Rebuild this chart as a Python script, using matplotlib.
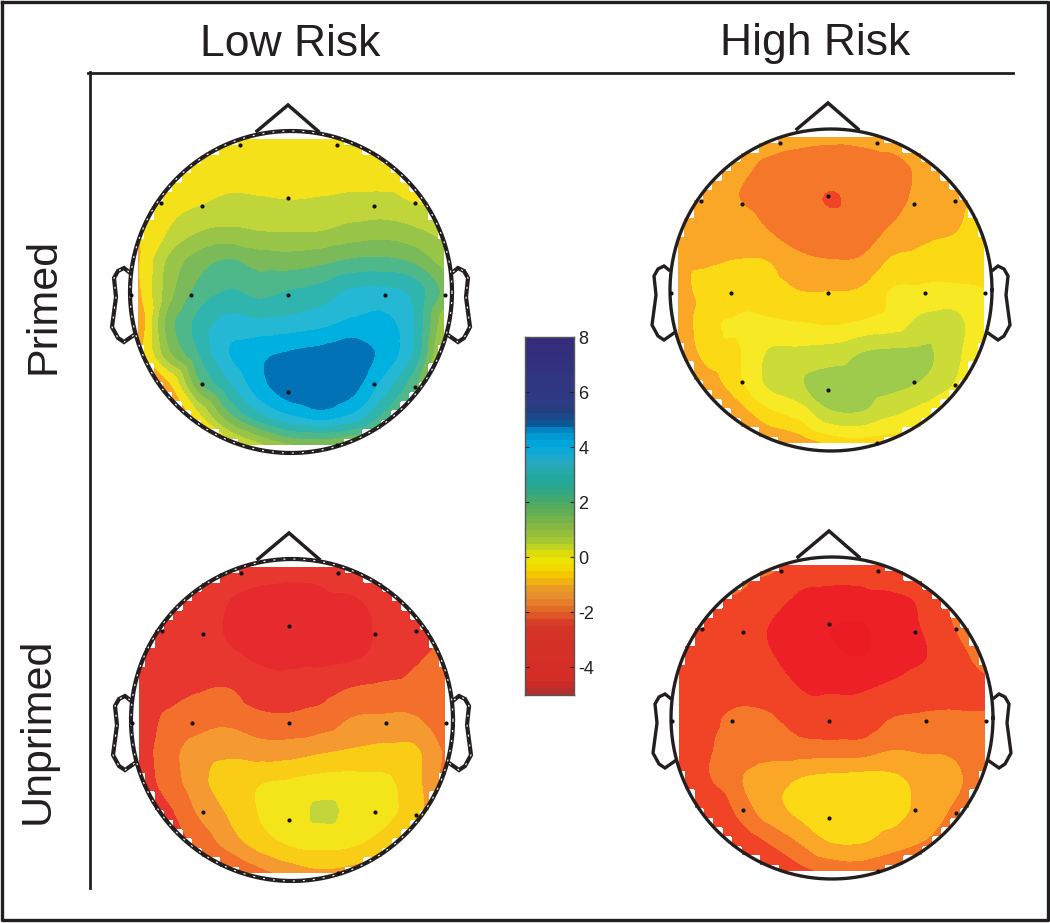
import numpy as np
import matplotlib
matplotlib.use("Agg")
import matplotlib.pyplot as plt
import matplotlib.tri as mtri
from matplotlib.colors import LinearSegmentedColormap

plt.rcParams['font.family'] = ['Liberation Sans', 'DejaVu Sans']

W, H = 1050, 923

# scalp values on an 11x11 grid, top row first
low_primed = [
    [-0.2, -0.1, 0.0, 0.0, 0.0, 0.0, 0.1, 0.4, 0.5, 0.4, 0.4],
    [-0.1, 0.0, 0.0, 0.0, 0.0, 0.0, 0.0, 0.0, 0.0, 0.1, 0.2],
    [-0.2, 0.0, 0.2, 0.4, 0.35, 0.3, 0.35, 0.45, 0.45, 0.25, 0.2],
    [-0.4, 0.3, 0.85, 1.0, 0.88, 0.85, 0.88, 1.1, 1.2, 1.0, 0.7],
    [-0.5, 1.0, 1.8, 2.15, 1.85, 1.8, 1.95, 2.2, 2.25, 2.0, 1.2],
    [-0.6, 1.2, 2.3, 2.75, 2.5, 2.75, 2.95, 3.4, 3.45, 3.1, 1.9],
    [-1.0, 1.7, 2.9, 3.5, 3.4, 3.5, 3.7, 4.0, 4.05, 3.3, 1.0],
    [-0.8, 1.3, 2.7, 3.9, 4.35, 4.55, 4.7, 4.9, 4.3, 3.2, 0.5],
    [-1.2, -0.5, 1.9, 3.2, 4.3, 4.9, 5.0, 4.75, 3.7, 2.3, 0.3],
    [-1.5, -1.5, 0.2, 2.0, 3.2, 3.9, 4.25, 3.8, 2.6, 1.3, 0.3],
    [-1.5, -1.5, -0.8, -0.2, 0.7, 1.4, 1.5, 1.2, 0.8, 0.6, 0.3],
]
high_primed = [
    [-1.2, -1.2, -1.2, -1.3, -1.45, -1.5, -1.45, -1.3, -1.2, -1.1, -1.0],
    [-1.1, -1.1, -1.45, -1.75, -1.85, -1.9, -1.9, -1.85, -1.45, -1.2, -1.0],
    [-1.1, -1.2, -1.6, -1.9, -2.0, -2.25, -2.0, -1.85, -1.4, -1.15, -0.95],
    [-1.0, -1.1, -1.25, -1.65, -1.9, -1.95, -1.85, -1.55, -1.2, -1.05, -0.75],
    [-1.05, -1.05, -1.0, -1.05, -1.5, -1.6, -1.55, -0.95, -0.8, -0.7, -0.6],
    [-1.15, -0.85, -0.7, -0.75, -1.02, -1.03, -0.95, -0.38, -0.3, -0.3, -0.4],
    [-1.5, -0.55, -0.35, -0.35, -0.45, -0.55, -0.4, -0.15, 0.45, 0.55, -0.4],
    [-1.7, -0.7, -0.45, 0.33, 0.4, 0.5, 0.85, 0.95, 0.95, 0.55, -0.6],
    [-1.9, -1.3, -0.55, 0.45, 0.85, 1.1, 1.1, 1.05, 0.85, 0.3, -0.9],
    [-2.0, -2.0, -1.3, -0.55, -0.1, 0.8, 0.85, 0.4, 0.0, -0.5, -1.0],
    [-2.0, -2.0, -1.9, -1.6, -1.4, -0.9, -0.7, -0.8, -1.0, -1.0, -1.0],
]
low_unprimed = [
    [-2.6, -2.7, -2.8, -2.9, -2.85, -2.9, -2.8, -2.2, -2.0, -1.9, -1.8],
    [-2.5, -2.6, -2.9, -3.1, -3.25, -3.3, -3.25, -3.15, -2.7, -2.1, -1.7],
    [-2.5, -2.6, -2.8, -3.2, -3.4, -3.5, -3.4, -3.3, -2.95, -2.5, -2.0],
    [-2.5, -2.55, -2.7, -2.95, -3.2, -3.3, -3.3, -3.15, -2.85, -2.3, -2.0],
    [-2.6, -2.5, -2.25, -2.2, -2.7, -2.65, -2.45, -2.15, -2.0, -1.9, -1.85],
    [-2.6, -2.05, -1.85, -1.75, -2.0, -2.05, -1.95, -1.55, -1.5, -1.55, -1.9],
    [-2.6, -1.8, -1.35, -1.2, -1.35, -1.3, -1.1, -0.95, -0.85, -0.9, -1.7],
    [-2.6, -1.9, -1.2, -0.6, -0.45, -0.35, -0.2, -0.2, -0.3, -0.8, -1.8],
    [-2.7, -2.3, -1.5, -0.9, -0.35, 0.0, 0.42, 0.1, -0.2, -0.75, -1.8],
    [-2.7, -2.6, -2.0, -1.3, -0.7, -0.3, -0.2, -0.3, -0.7, -1.3, -1.8],
    [-2.7, -2.7, -2.6, -2.4, -1.8, -1.4, -1.15, -1.3, -1.6, -1.8, -1.9],
]
high_unprimed = [
    [-2.1, -2.0, -1.9, -2.0, -2.6, -2.7, -2.7, -2.2, -2.0, -1.6, -1.5],
    [-2.4, -2.2, -2.25, -2.7, -3.2, -3.3, -3.3, -3.2, -2.9, -1.9, -1.4],
    [-2.5, -2.5, -2.6, -3.15, -3.4, -3.9, -3.95, -3.4, -3.05, -2.2, -1.4],
    [-2.5, -2.5, -2.6, -3.05, -3.4, -3.75, -3.9, -3.5, -3.15, -2.6, -1.8],
    [-2.5, -2.45, -2.4, -2.5, -3.15, -3.2, -3.2, -2.95, -2.65, -2.5, -2.4],
    [-2.5, -2.3, -2.1, -2.15, -2.6, -2.75, -2.65, -2.2, -2.1, -2.1, -2.15],
    [-2.7, -2.25, -1.95, -1.85, -1.95, -1.95, -1.95, -1.65, -1.7, -1.75, -2.1],
    [-3.0, -2.25, -1.65, -1.3, -0.98, -0.85, -0.8, -0.9, -1.2, -1.45, -2.1],
    [-3.0, -2.9, -2.0, -1.25, -0.85, -0.65, -0.65, -0.75, -1.25, -1.7, -2.3],
    [-3.0, -3.0, -2.6, -2.1, -1.5, -0.95, -0.95, -1.3, -1.6, -2.0, -2.4],
    [-3.0, -3.0, -3.0, -2.8, -2.4, -2.1, -2.0, -2.2, -2.4, -2.5, -2.6],
]

# contour bands shared by the four maps
band_edges = [-6, -3.9, -3.1, -2.2, -1.6, -1.0, -0.4, 0.3, 0.9, 1.5, 2.1, 2.7, 3.3, 3.9, 4.5, 8]
band_colors = ['#ec1c24', '#ee2027', '#f14427', '#f5782a', '#faa626', '#fbd915', '#f8e925', '#cbdc38',
               '#9fcb4d', '#7aba58', '#4fb88a', '#30b5ae', '#25b8d5', '#00b0e2', '#0072b5']
# the bottom left map came out a little duller
band_colors_dull = ['#e52b2e', '#e52b2e', '#e7372f', '#f26f2c', '#f49a30', '#f9cd16', '#f4e41a', '#c2d63b',
                    '#9fcb4d', '#7aba58', '#4fb88a', '#30b5ae', '#25b8d5', '#00b0e2', '#0072b5']
band_colors_low = ['#ec1c24', '#ee2027', '#f14427', '#f5782a', '#f9a826', '#f9a826', '#f5e11a', '#c0d53a',
                   '#98c547', '#7aba58', '#4fb88a', '#30b5ae', '#25b8d5', '#00b0e0', '#0072b5']

# colorbar anchors
cbar_values = [-5, -4.7, -4.5, -2.5, -2.2, -1.9, -1.5, -1.2, -0.9, -0.6, -0.2, 0, 0.3, 0.6, 1, 1.5, 2, 2.5, 3,
               3.3, 3.6, 4, 4.3, 4.6, 4.75, 4.9, 5.3, 5.75, 8]
cbar_colors = ['#a83030', '#c42c28', '#d52b27', '#d53527', '#dd5026', '#e26a28', '#e68a2c', '#e6952c',
               '#eeb010', '#f5c800', '#f0e600', '#e5e000', '#c5d51f', '#a5c832', '#8dbb3e', '#6bb04e',
               '#4aa967', '#2ba78f', '#1fa99f', '#2aa9b5', '#20a8cc', '#00aade', '#00a0d8', '#0088c6',
               '#0073b5', '#0f5595', '#21407f', '#2f3a84', '#352a7a']
cbar_ticks = [-4, -2, 0, 2, 4, 6, 8]

col_titles = ['Low Risk', 'High Risk']
row_titles = ['Primed', 'Unprimed']

# electrode positions relative to the electrode centre
elec_dx = [-48, 49, -127, -86, 0, 86, 127, -97, 0, 97, 157, -157, -86, 0, 86, 127, 49]
elec_dy = [-150, -150, -92, -89, -97, -89, -92, 0, 0, 0, 0, 0, 89, 97, 89, 92, 150]

fig = plt.figure(figsize=(W / 100, H / 100), dpi=100)
ax = fig.add_axes([0, 0, 1, 1])
ax.set_xlim(0, W)
ax.set_ylim(H, 0)
ax.axis('off')

grid = np.linspace(-1, 1, 11)
fine = np.linspace(-1, 1, 401)
gx, gy = np.meshgrid(grid, grid)
fx, fy = np.meshgrid(fine, fine)
tri = mtri.Triangulation(gx.ravel(), gy.ravel())
# blocky scalp mask like the original plot
STEP = 0.062
blocky = np.hypot(np.round(fx / STEP) * STEP, np.round(fy / STEP) * STEP) > 1.04

MAP_HALF = 153
CIRCLE_R = 161


def draw_head(values, cx, cy, colors, dashed):
    z = np.array(values).ravel()
    smooth = mtri.CubicTriInterpolator(tri, z, kind='geom')(fx, fy)
    smooth = np.ma.array(smooth, mask=blocky)
    ax.contourf(cx + fx * MAP_HALF, cy + fy * MAP_HALF, smooth, levels=band_edges, colors=colors, zorder=1)

    t = np.linspace(0, 2 * np.pi, 300)
    nose_x = np.array([-34, -3, 27]) + cx
    nose_y = np.array([-161, -187, -161]) + cy
    ear_x = np.array([162, 167, 173, 177, 175, 179, 173, 167, 157])
    ear_y = np.array([-20, -24, -21, -14, 5, 35, 46, 50, 43]) + cy
    ax.plot(nose_x, nose_y, color='#231f20', lw=2.5, zorder=3, solid_joinstyle='miter')
    outlines = [(cx + CIRCLE_R * np.cos(t), cy + CIRCLE_R * np.sin(t)), (cx - ear_x, ear_y), (cx + ear_x, ear_y)]
    for lx, ly in outlines:
        ax.plot(lx, ly, color='#231f20', lw=3.0 if dashed else 2.4, zorder=3, solid_joinstyle='miter')
        if dashed:
            ax.plot(lx, ly, color='white', lw=0.8, ls=(0, (1.8, 7.2)), zorder=4)

    ax.scatter(cx - 3 + np.array(elec_dx), cy + 3 + np.array(elec_dy), s=9, color='#111111', zorder=5, linewidths=0)


draw_head(low_primed, 291, 292, band_colors_low, True)
draw_head(high_primed, 831, 290, band_colors, False)
draw_head(low_unprimed, 292, 720, band_colors_dull, True)
draw_head(high_unprimed, 832, 718, band_colors, False)

# outer frame and the L shaped header rule
ax.plot([2, 1048, 1048, 2, 2], [2, 2, 920, 920, 2], color='#231f20', lw=2.4, zorder=2)
ax.plot([88, 1013], [72.5, 72.5], color='#231f20', lw=2.0)
ax.plot([90, 90], [72, 888], color='#231f20', lw=2.0)

ax.text(290, 44, col_titles[0], fontsize=32, ha='center', va='center', color='#231f20')
ax.text(815, 44, col_titles[1], fontsize=32, ha='center', va='center', color='#231f20')
ax.text(44, 306, row_titles[0], fontsize=31, rotation=90, ha='center', va='center', color='#231f20')
ax.text(38, 731, row_titles[1], fontsize=31, rotation=90, ha='center', va='center', color='#231f20')

# colorbar
cax = fig.add_axes([525 / W, 1 - 695 / H, 49 / W, 358 / H])
lo, hi = cbar_values[0], cbar_values[-1]
cmap = LinearSegmentedColormap.from_list(
    'erp', [((v - lo) / (hi - lo), c) for v, c in zip(cbar_values, cbar_colors)], N=256)
edges = np.arange(lo, hi + 0.01, 0.25)
mids = (edges[:-1] + edges[1:]) / 2
cax.pcolormesh([0, 1], edges, mids[:, None], cmap=cmap, vmin=lo, vmax=hi)
cax.set_xticks([])
cax.set_ylim(lo, hi)
cax.set_yticks(cbar_ticks)
cax.yaxis.tick_right()
cax.tick_params(axis='y', direction='in', length=3, width=0.8, left=True, right=True, labelsize=13,
                pad=3, colors='#231f20')
cax.set_yticklabels([str(v) for v in cbar_ticks])
for s in cax.spines.values():
    s.set_color('#555555')
    s.set_linewidth(1.0)

fig.savefig('out.png', dpi=100)
